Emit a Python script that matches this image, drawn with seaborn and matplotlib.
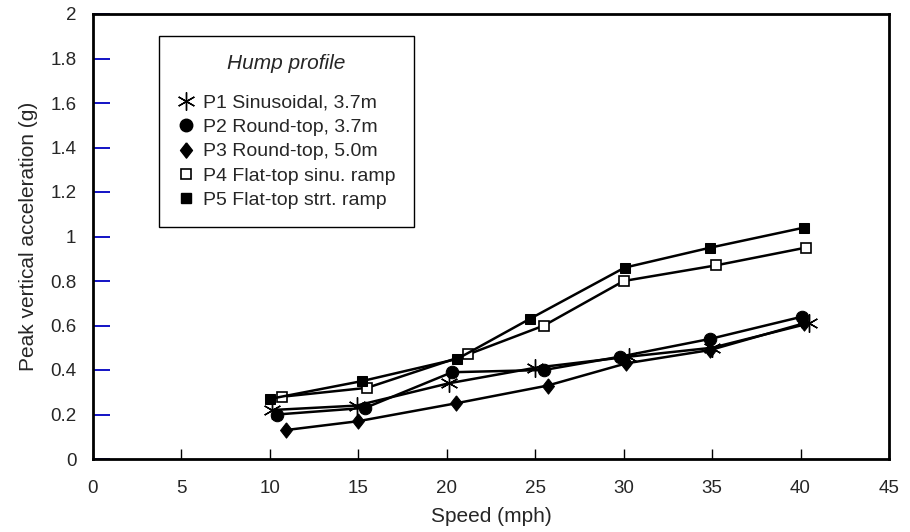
import matplotlib
matplotlib.use("Agg")
import matplotlib.pyplot as plt
from matplotlib.lines import Line2D
import seaborn as sns
import pandas as pd

# Measured hump-profile responses: speed (mph) vs peak vertical acceleration (g)
p1_speed = [10.1, 14.9, 20.1, 25.0, 30.3, 35.0, 40.5]
p1_accel = [0.22, 0.24, 0.34, 0.41, 0.46, 0.50, 0.61]

p2_speed = [10.4, 15.4, 20.3, 25.5, 29.8, 34.9, 40.1]
p2_accel = [0.20, 0.23, 0.39, 0.40, 0.46, 0.54, 0.64]

p3_speed = [10.9, 15.0, 20.5, 25.7, 30.15, 34.9, 40.2]
p3_accel = [0.13, 0.17, 0.25, 0.33, 0.43, 0.49, 0.61]

p4_speed = [10.7, 15.5, 21.2, 25.5, 30.0, 35.2, 40.3]
p4_accel = [0.28, 0.32, 0.47, 0.60, 0.80, 0.87, 0.95]

p5_speed = [10.0, 15.2, 20.6, 24.7, 30.05, 34.9, 40.2]
p5_accel = [0.27, 0.35, 0.45, 0.63, 0.86, 0.95, 1.04]

labels = ["P1 Sinusoidal, 3.7m", "P2 Round-top, 3.7m", "P3 Round-top, 5.0m",
          "P4 Flat-top sinu. ramp", "P5 Flat-top strt. ramp"]
x_ticks = [0, 5, 10, 15, 20, 25, 30, 35, 40, 45]
y_ticks = [0, 0.2, 0.4, 0.6, 0.8, 1.0, 1.2, 1.4, 1.6, 1.8, 2.0]
y_tick_labels = ["0", "0.2", "0.4", "0.6", "0.8", "1", "1.2", "1.4", "1.6", "1.8", "2"]

sns.set_theme(style="white")
plt.rcParams["font.family"] = ["Liberation Sans", "DejaVu Sans"]

# slightly tall diamond outline
tall_diamond = [(0, 1), (0.78, 0), (0, -1), (-0.78, 0), (0, 1)]

series = [
    (p1_speed, p1_accel, dict(marker=(6, 2, 0), markersize=13, markerfacecolor="black",
                              markeredgecolor="black", markeredgewidth=1.0)),
    (p2_speed, p2_accel, dict(marker="o", markersize=9, markerfacecolor="black",
                              markeredgecolor="black")),
    (p3_speed, p3_accel, dict(marker=tall_diamond, markersize=11, markerfacecolor="black",
                              markeredgecolor="black")),
    (p4_speed, p4_accel, dict(marker="s", markersize=7.5, markerfacecolor="white",
                              markeredgecolor="black", markeredgewidth=1.2)),
    (p5_speed, p5_accel, dict(marker="s", markersize=7.5, markerfacecolor="black",
                              markeredgecolor="black")),
]

fig = plt.figure(figsize=(9.1, 5.32), dpi=100)
ax = fig.add_axes([93 / 910, 1 - 459 / 532, (889 - 93) / 910, (459 - 14) / 532])

handles = []
for (xs, ys, mk), lab in zip(series, labels):
    df = pd.DataFrame({"speed": xs, "accel": ys})
    sns.lineplot(data=df, x="speed", y="accel", ax=ax, color="black", linewidth=1.8,
                 sort=False, estimator=None, legend=False, **mk)
    handles.append(Line2D([], [], linestyle="none", label=lab, **mk))

ax.set_xlim(0, 45)
ax.set_ylim(0, 2)
ax.set_xticks(x_ticks)
ax.set_xticklabels([str(t) for t in x_ticks])
ax.set_yticks(y_ticks)
ax.set_yticklabels(y_tick_labels)
ax.tick_params(axis="x", direction="in", length=7, width=1.0, color="black",
               labelsize=13.5, pad=15, bottom=True)
ax.tick_params(axis="y", direction="in", length=12, width=1.3, color="#0000c0",
               labelsize=13.5, pad=12, left=True)
ax.set_xlabel("Speed (mph)", fontsize=15, labelpad=7)
ax.set_ylabel("Peak vertical acceleration (g)", fontsize=15, labelpad=9)
for s in ax.spines.values():
    s.set_color("black")
    s.set_linewidth(2.0)
ax.grid(False)

leg = ax.legend(handles=handles, loc="upper left", bbox_to_anchor=(0.0829, 0.9506),
                title="Hump profile", fontsize=14, title_fontsize=15,
                frameon=True, fancybox=False, borderpad=0.95, labelspacing=0.34,
                handletextpad=0.39, handlelength=0.9, borderaxespad=0)
leg.get_title().set_fontstyle("italic")
leg._legend_box.sep = 15
frame = leg.get_frame()
frame.set_edgecolor("black")
frame.set_linewidth(1.0)
frame.set_facecolor("white")
frame.set_alpha(1.0)

fig.savefig("out.png", dpi=100)
